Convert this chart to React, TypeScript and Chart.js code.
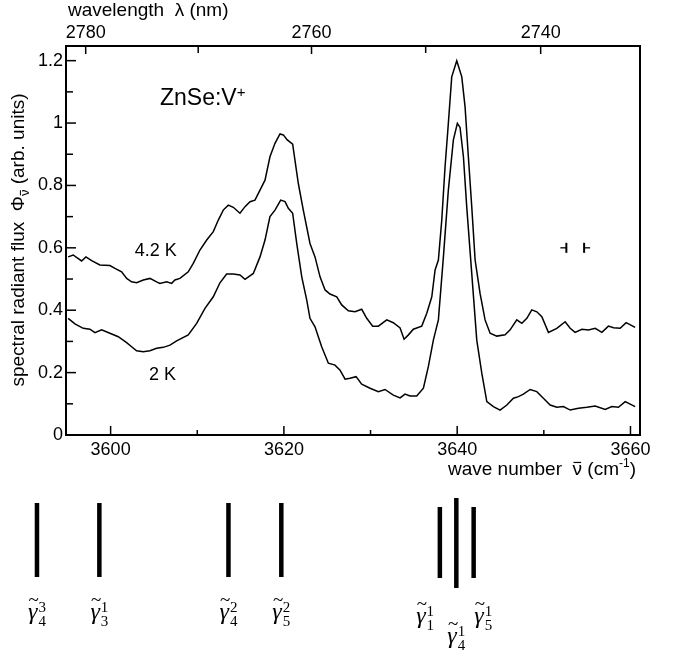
import React, { useEffect, useRef } from "react";
import { Chart, registerables } from "chart.js";

Chart.register(...registerables);

// ---- data ----
const wavenumber42 = [
  3595.1, 3595.68, 3596.65, 3597.15, 3597.81, 3598.76, 3599.92, 3600.5, 3601.27, 3601.85,
  3602.42, 3603.0, 3603.77, 3604.54, 3605.31, 3605.69, 3606.47, 3607.04, 3607.42, 3608.0,
  3608.96, 3609.54, 3610.31, 3611.09, 3611.85, 3612.43, 3613.0, 3613.58, 3614.16, 3614.93,
  3615.51, 3616.09, 3616.66, 3617.24, 3617.82, 3618.39, 3618.97, 3619.55, 3619.93, 3620.39,
  3621.01, 3621.66, 3622.24, 3623.01, 3623.59, 3624.17, 3624.75, 3625.32, 3626.1, 3626.67,
  3627.44, 3628.21, 3628.98, 3629.56, 3630.25, 3630.9, 3631.87, 3632.63, 3633.41, 3633.87,
  3634.37, 3634.94, 3635.91, 3636.49, 3637.07, 3637.45, 3637.83, 3638.22, 3638.6, 3638.98,
  3639.37, 3639.95, 3640.53, 3640.91, 3641.29, 3641.68, 3642.07, 3642.64, 3643.22, 3643.8,
  3644.57, 3645.53, 3646.11, 3646.88, 3647.46, 3648.04, 3648.61, 3649.19, 3649.77, 3650.53,
  3651.5, 3652.46, 3653.04, 3653.61, 3654.39, 3655.15, 3655.93, 3656.7, 3657.46, 3658.04,
  3658.81, 3659.5, 3660.54,
];
const flux42 = [
  0.571, 0.577, 0.558, 0.571, 0.559, 0.545, 0.543, 0.534, 0.523, 0.502,
  0.491, 0.488, 0.497, 0.502, 0.491, 0.486, 0.491, 0.486, 0.497, 0.502,
  0.523, 0.55, 0.593, 0.625, 0.652, 0.689, 0.721, 0.737, 0.73, 0.711,
  0.732, 0.748, 0.753, 0.785, 0.817, 0.892, 0.935, 0.965, 0.962, 0.946,
  0.932, 0.807, 0.721, 0.614, 0.571, 0.507, 0.465, 0.452, 0.443, 0.417,
  0.398, 0.395, 0.403, 0.374, 0.349, 0.349, 0.369, 0.36, 0.343, 0.307,
  0.321, 0.339, 0.349, 0.39, 0.443, 0.529, 0.561, 0.689, 0.86, 0.999,
  1.148, 1.2, 1.148, 1.052, 0.892, 0.732, 0.561, 0.454, 0.369, 0.326,
  0.317, 0.321, 0.337, 0.369, 0.358, 0.374, 0.401, 0.395, 0.379, 0.329,
  0.342, 0.363, 0.342, 0.329, 0.339, 0.337, 0.342, 0.329, 0.349, 0.344,
  0.342, 0.36, 0.345,
];

const wavenumber2 = [
  3595.1, 3595.88, 3596.84, 3597.61, 3598.19, 3598.96, 3599.92, 3600.88, 3601.85, 3602.42,
  3603.0, 3603.77, 3604.54, 3605.31, 3606.08, 3606.85, 3607.62, 3608.96, 3609.93, 3610.89,
  3611.85, 3612.62, 3613.39, 3614.16, 3614.93, 3615.51, 3616.47, 3617.24, 3617.82, 3618.39,
  3618.97, 3619.63, 3620.13, 3620.51, 3621.01, 3621.48, 3622.06, 3622.63, 3623.01, 3623.59,
  3624.36, 3625.13, 3625.9, 3626.48, 3627.06, 3627.63, 3628.33, 3628.98, 3629.94, 3630.9,
  3631.67, 3632.63, 3633.41, 3633.98, 3634.56, 3635.33, 3636.1, 3636.67, 3637.25, 3637.83,
  3638.41, 3638.98, 3639.56, 3640.02, 3640.33, 3640.72, 3641.1, 3641.68, 3642.26, 3642.84,
  3643.42, 3644.18, 3644.95, 3645.73, 3646.49, 3647.07, 3647.64, 3648.42, 3649.19, 3649.95,
  3650.73, 3651.5, 3652.26, 3653.04, 3654.0, 3654.97, 3655.93, 3657.08, 3657.85, 3658.61,
  3659.39, 3660.54,
];
const flux2 = [
  0.374, 0.356, 0.342, 0.339, 0.328, 0.337, 0.326, 0.315, 0.296, 0.283,
  0.27, 0.267, 0.27, 0.278, 0.281, 0.288, 0.302, 0.321, 0.358, 0.406,
  0.443, 0.488, 0.516, 0.516, 0.513, 0.499, 0.518, 0.571, 0.625, 0.7,
  0.721, 0.753, 0.748, 0.727, 0.711, 0.614, 0.507, 0.433, 0.374, 0.347,
  0.283, 0.23, 0.224, 0.208, 0.179, 0.182, 0.187, 0.163, 0.15, 0.139,
  0.146, 0.128, 0.119, 0.131, 0.125, 0.125, 0.15, 0.219, 0.304, 0.369,
  0.571, 0.785, 0.946, 0.999, 0.986, 0.892, 0.732, 0.518, 0.304, 0.198,
  0.107, 0.091, 0.08, 0.096, 0.118, 0.123, 0.131, 0.146, 0.139, 0.118,
  0.096, 0.089, 0.091, 0.08, 0.086, 0.089, 0.093, 0.082, 0.091, 0.089,
  0.107, 0.091,
];

const xTickValues = [3600, 3610, 3620, 3630, 3640, 3650, 3660];
const xTickLabels = ["3600", "", "3620", "", "3640", "", "3660"];
const yTickValues = [0, 0.1, 0.2, 0.3, 0.4, 0.5, 0.6, 0.7, 0.8, 0.9, 1.0, 1.1, 1.2];
const yTickLabels = ["0", "", "0.2", "", "0.4", "", "0.6", "", "0.8", "", "1", "", "1.2"];
const wavelengthTicks = [2780, 2770, 2760, 2750, 2740];
const wavelengthLabels = ["2780", "", "2760", "", "2740"];

const curveLabels = ["4.2 K", "2 K"];
const resolutionMarks = [3652.6, 3654.65];
const resolutionLevel = 0.6;

// predicted line positions (wavenumber) shown below the spectrum
const lineWavenumbers = [3591.5, 3598.7, 3613.6, 3619.7, 3638.0, 3639.9, 3641.9];
const lineLabelWavenumbers = [3591.5, 3598.7, 3613.6, 3619.7, 3636.3, 3639.9, 3643.0];
const lineSup = ["3", "1", "2", "2", "1", "1", "1"];
const lineSub = ["4", "3", "4", "5", "1", "4", "5"];
const lineGroup = [0, 0, 0, 0, 1, 2, 1];

const X_MIN = 3594.85;
const X_MAX = 3661.1;
const Y_MIN = 0;
const Y_MAX = 1.247;

const SANS = "'Liberation Sans', Arial, Helvetica, sans-serif";
const SERIF = "'Liberation Serif', 'DejaVu Serif', serif";

const overlayPlugin = {
  id: "overlay",
  afterDraw(chart: any) {
    const ctx: CanvasRenderingContext2D = chart.ctx;
    const { left, right, top, bottom } = chart.chartArea;
    const xs = chart.scales.x;
    const x2 = chart.scales.x2;
    const ys = chart.scales.y;
    ctx.save();
    ctx.strokeStyle = "#000";
    ctx.fillStyle = "#000";
    ctx.lineCap = "butt";

    const seg = (a: number, b: number, c: number, d: number) => {
      ctx.beginPath();
      ctx.moveTo(a, b);
      ctx.lineTo(c, d);
      ctx.stroke();
    };

    // frame
    ctx.lineWidth = 2;
    ctx.strokeRect(left, top, right - left, bottom - top);

    // inward ticks
    ctx.lineWidth = 1.5;
    xs.ticks.forEach((t: any) => {
      const px = xs.getPixelForValue(t.value);
      seg(px, bottom, px, bottom - (t.label ? 9 : 5));
    });
    x2.ticks.forEach((t: any) => {
      const px = x2.getPixelForValue(t.value);
      seg(px, top, px, top + (t.label ? 8 : 7));
    });
    ys.ticks.forEach((t: any) => {
      const py = ys.getPixelForValue(t.value);
      seg(left, py, left + (t.label ? 10 : 7), py);
    });

    // resolution marker  -|  |-
    const ry = ys.getPixelForValue(resolutionLevel);
    const r0 = xs.getPixelForValue(resolutionMarks[0]);
    const r1 = xs.getPixelForValue(resolutionMarks[1]);
    ctx.lineWidth = 2;
    seg(r0, ry - 5, r0, ry + 5);
    seg(r1, ry - 5, r1, ry + 5);
    ctx.lineWidth = 1.3;
    seg(r0 - 6, ry, r0, ry);
    seg(r1, ry, r1 + 6, ry);

    // in-plot texts
    ctx.textBaseline = "alphabetic";
    ctx.font = `23px ${SANS}`;
    ctx.textAlign = "left";
    const zx = xs.getPixelForValue(3605.7);
    const zy = ys.getPixelForValue(1.057);
    ctx.fillText("ZnSe:V", zx, zy);
    const zw = ctx.measureText("ZnSe:V").width;
    ctx.font = `15px ${SANS}`;
    ctx.fillText("+", zx + zw, zy - 8);

    ctx.font = `18px ${SANS}`;
    ctx.textAlign = "center";
    ctx.fillText(curveLabels[0], xs.getPixelForValue(3605.2), ys.getPixelForValue(0.575));
    ctx.fillText(curveLabels[1], xs.getPixelForValue(3606.0), ys.getPixelForValue(0.176));

    // top axis title
    ctx.textAlign = "left";
    ctx.font = `19px ${SANS}`;
    ctx.fillText("wavelength  \u03bb (nm)", 68, 16);

    // nu with an overbar, drawn at (x, baseline) in current transform
    const nuBar = (x: number, base: number, size: number) => {
      ctx.font = `${size}px ${SANS}`;
      ctx.fillText("\u03bd", x, base);
      const w = ctx.measureText("\u03bd").width;
      ctx.save();
      ctx.lineWidth = Math.max(1, size / 16);
      seg(x + w * 0.1, base - size * 0.66, x + w * 0.9, base - size * 0.66);
      ctx.restore();
      return w;
    };

    // bottom axis title: wave number  ν̄ (cm-1)
    {
      const base = 475;
      const p0 = "wave number  ";
      const p1 = " (cm";
      const p2 = "-1";
      const p3 = ")";
      ctx.font = `19px ${SANS}`;
      const w0 = ctx.measureText(p0).width;
      const wn = ctx.measureText("\u03bd").width;
      const w1 = ctx.measureText(p1).width;
      const w3 = ctx.measureText(p3).width;
      ctx.font = `12px ${SANS}`;
      const w2 = ctx.measureText(p2).width;
      const endX = 636;
      let sx = endX - (w0 + wn + w1 + w2 + w3);
      ctx.textAlign = "left";
      ctx.font = `19px ${SANS}`;
      ctx.fillText(p0, sx, base);
      sx += w0;
      sx += nuBar(sx, base, 19);
      ctx.font = `19px ${SANS}`;
      ctx.fillText(p1, sx, base);
      sx += w1;
      ctx.font = `12px ${SANS}`;
      ctx.fillText(p2, sx, base - 8);
      sx += w2;
      ctx.font = `19px ${SANS}`;
      ctx.fillText(p3, sx, base);
    }

    // y axis title (rotated)
    {
      ctx.save();
      ctx.translate(24, 240);
      ctx.rotate(-Math.PI / 2);
      const a = "spectral radiant flux  \u03a6";
      const c = " (arb. units)";
      ctx.font = `19px ${SANS}`;
      const wa = ctx.measureText(a).width;
      const wc = ctx.measureText(c).width;
      ctx.font = `13px ${SANS}`;
      const wb = ctx.measureText("\u03bd").width;
      const total = wa + wb + wc;
      const x0 = -total / 2;
      ctx.textAlign = "left";
      ctx.font = `19px ${SANS}`;
      ctx.fillText(a, x0, 0);
      nuBar(x0 + wa, 5, 13);
      ctx.font = `19px ${SANS}`;
      ctx.fillText(c, x0 + wa + wb, 0);
      ctx.restore();
    }

    // predicted line bars + labels below the plot
    const spans: Record<number, [number, number]> = { 0: [503, 577], 1: [507, 578], 2: [498, 588] };
    const labelBase: Record<number, number> = { 0: 619, 1: 623, 2: 643 };
    ctx.lineWidth = 4.5;
    lineWavenumbers.forEach((wn, i) => {
      const px = xs.getPixelForValue(wn);
      const [t0, t1] = spans[lineGroup[i]];
      seg(px, t0, px, t1);
    });
    lineLabelWavenumbers.forEach((wn, i) => {
      const cx = xs.getPixelForValue(wn);
      const by = labelBase[lineGroup[i]];
      ctx.font = `italic 24px ${SERIF}`;
      const gw = ctx.measureText("\u03b3").width;
      ctx.font = `15px ${SERIF}`;
      const dw = ctx.measureText(lineSup[i]).width;
      const sx = cx - (gw + dw + 1) / 2;
      ctx.textAlign = "left";
      ctx.font = `italic 24px ${SERIF}`;
      ctx.fillText("\u03b3", sx, by);
      ctx.font = `19px ${SERIF}`;
      ctx.textAlign = "center";
      ctx.fillText("~", sx + gw / 2 + 1, by - 13);
      ctx.textAlign = "left";
      ctx.font = `15px ${SERIF}`;
      ctx.fillText(lineSup[i], sx + gw + 1, by - 7);
      ctx.fillText(lineSub[i], sx + gw + 1, by + 7);
    });

    ctx.restore();
  },
};

export default function App() {
  const ref = useRef<HTMLCanvasElement | null>(null);

  useEffect(() => {
    document.body.style.margin = "0";
    const canvas = ref.current;
    if (!canvas) return;
    const tickFont = { family: SANS, size: 18 };
    const chart = new Chart(canvas, {
      type: "line",
      data: {
        datasets: [
          {
            label: curveLabels[0],
            data: wavenumber42.map((x, i) => ({ x, y: flux42[i] })),
            borderColor: "#000",
            borderWidth: 1.5,
            pointRadius: 0,
            fill: false,
            tension: 0,
            xAxisID: "x",
            yAxisID: "y",
          },
          {
            label: curveLabels[1],
            data: wavenumber2.map((x, i) => ({ x, y: flux2[i] })),
            borderColor: "#000",
            borderWidth: 1.5,
            pointRadius: 0,
            fill: false,
            tension: 0,
            xAxisID: "x",
            yAxisID: "y",
          },
        ],
      },
      options: {
        responsive: false,
        animation: false,
        devicePixelRatio: 1,
        layout: { padding: { left: 0, right: 36, top: 0, bottom: 0 } },
        plugins: { legend: { display: false }, tooltip: { enabled: false } },
        scales: {
          x: {
            type: "linear",
            position: "bottom",
            min: X_MIN,
            max: X_MAX,
            grid: { display: false, drawTicks: false },
            border: { display: false },
            ticks: {
              autoSkip: false,
              maxRotation: 0,
              padding: 4,
              color: "#000",
              font: tickFont,
              callback: (_v: any, i: number) => xTickLabels[i] ?? "",
            },
            afterBuildTicks: (s: any) => {
              s.ticks = xTickValues.map((value) => ({ value }));
            },
            afterFit: (s: any) => {
              s.height = 223;
              s.paddingLeft = 0;
              s.paddingRight = 0;
            },
          },
          x2: {
            type: "linear",
            position: "top",
            min: X_MIN,
            max: X_MAX,
            grid: { display: false, drawTicks: false },
            border: { display: false },
            ticks: {
              autoSkip: false,
              maxRotation: 0,
              padding: 2,
              color: "#000",
              font: tickFont,
              callback: (_v: any, i: number) => wavelengthLabels[i] ?? "",
            },
            afterBuildTicks: (s: any) => {
              s.ticks = wavelengthTicks.map((lam) => ({ value: 1e7 / lam }));
            },
            afterFit: (s: any) => {
              s.height = 46;
              s.paddingLeft = 0;
              s.paddingRight = 0;
            },
          },
          y: {
            type: "linear",
            position: "left",
            min: Y_MIN,
            max: Y_MAX,
            grid: { display: false, drawTicks: false },
            border: { display: false },
            ticks: {
              autoSkip: false,
              padding: 3,
              color: "#000",
              font: tickFont,
              callback: (_v: any, i: number) => yTickLabels[i] ?? "",
            },
            afterBuildTicks: (s: any) => {
              s.ticks = yTickValues.map((value) => ({ value }));
            },
            afterFit: (s: any) => {
              s.width = 66;
              s.paddingTop = 0;
              s.paddingBottom = 0;
            },
          },
        },
      },
      plugins: [overlayPlugin],
    } as any);
    return () => chart.destroy();
  }, []);

  return (
    <div style={{ width: 676, height: 658, background: "#fff" }}>
      <canvas ref={ref} width={676} height={658} style={{ display: "block" }} />
    </div>
  );
}
